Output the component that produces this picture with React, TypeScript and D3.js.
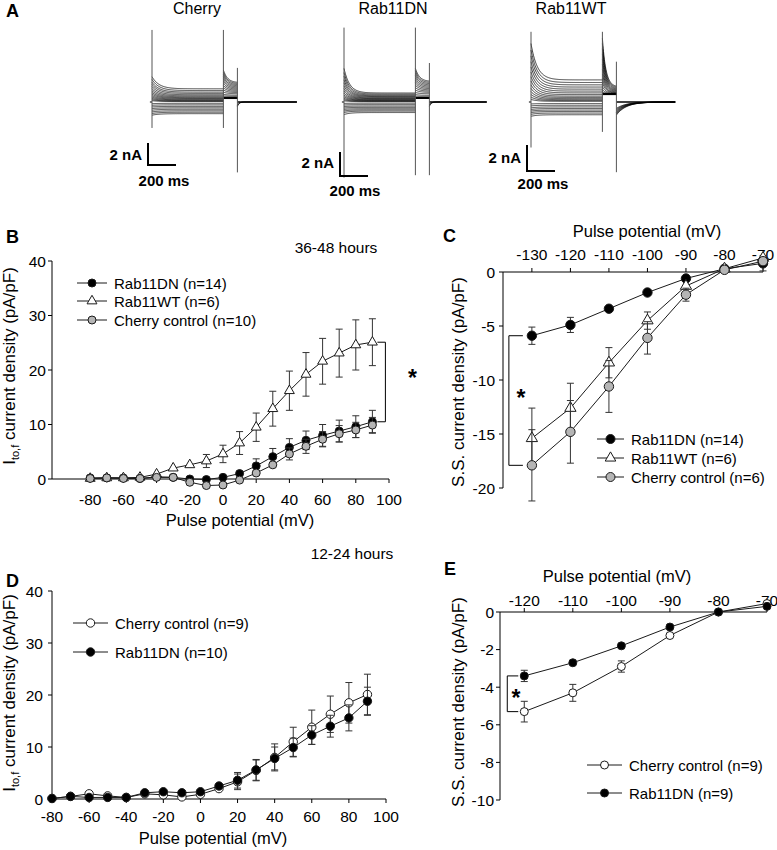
import React from "react";
import * as d3 from "d3";

const FONT = "Arial, 'Liberation Sans', Helvetica, sans-serif";
const INK = "#1a1a1a";
const GRAY_FILL = "#b5b5b5";

// ---------- A: whole-cell current traces, nA per voltage step ----------
const cherryPeakNA = [2.3, 2.05, 1.8, 1.6, 1.4, 1.2, 1.02, 0.86, 0.72, 0.58, 0.45, 0.33, 0.22, 0.12, -0.15, -0.3, -0.45, -0.6, -0.75, -0.9, -1.05, -1.2];
const cherrySteadyNA = [1.2, 1.04, 0.9, 0.78, 0.66, 0.56, 0.47, 0.39, 0.32, 0.25, 0.19, 0.13, 0.08, 0.04, -0.12, -0.26, -0.4, -0.53, -0.66, -0.8, -0.93, -1.06];
const cherryTailPeakNA = [2.9, 2.7, 2.5, 2.3, 2.1, 1.9, 1.7, 1.5, 1.3, 1.1, 0.9, 0.7, 0.55, 0.45, 0.38, 0.37, 0.36, 0.36, 0.35, 0.35, 0.35, 0.35];
const cherryTailEndNA = [1.75, 1.65, 1.55, 1.45, 1.35, 1.25, 1.15, 1.05, 0.95, 0.85, 0.75, 0.62, 0.52, 0.44, 0.38, 0.37, 0.36, 0.36, 0.35, 0.35, 0.35, 0.35];
const cherryOffNA = [-0.4, -0.3];

const dnPeakNA = [2.8, 2.45, 2.15, 1.85, 1.6, 1.35, 1.12, 0.92, 0.74, 0.58, 0.44, 0.31, 0.2, 0.1, -0.12, -0.25, -0.38, -0.5, -0.62, -0.75, -0.88, -1.05];
const dnSteadyNA = [0.75, 0.66, 0.58, 0.51, 0.45, 0.39, 0.33, 0.28, 0.23, 0.18, 0.14, 0.1, 0.06, 0.03, -0.1, -0.22, -0.34, -0.45, -0.56, -0.66, -0.76, -0.88];
const dnTailPeakNA = [2.8, 2.6, 2.4, 2.2, 2.0, 1.8, 1.6, 1.4, 1.2, 1.0, 0.8, 0.62, 0.48, 0.38, 0.33, 0.33, 0.33, 0.33, 0.33, 0.33, 0.33, 0.33];
const dnTailEndNA = [1.7, 1.6, 1.5, 1.4, 1.3, 1.2, 1.1, 1.0, 0.9, 0.8, 0.68, 0.55, 0.45, 0.37, 0.33, 0.33, 0.33, 0.33, 0.33, 0.33, 0.33, 0.33];
const dnOffNA = [-0.35, -0.25];

const wtPeakNA = [4.5, 4.0, 3.55, 3.1, 2.7, 2.3, 1.95, 1.62, 1.32, 1.05, 0.8, 0.58, 0.38, 0.2, -0.15, -0.3, -0.45, -0.58, -0.7, -0.82, -0.95, -1.1];
const wtSteadyNA = [1.7, 1.5, 1.32, 1.15, 0.99, 0.84, 0.7, 0.57, 0.45, 0.35, 0.26, 0.18, 0.11, 0.05, -0.12, -0.25, -0.38, -0.5, -0.62, -0.73, -0.85, -0.98];
const wtTailPeakNA = [4.9, 4.5, 4.1, 3.7, 3.3, 2.9, 2.5, 2.15, 1.8, 1.5, 1.2, 0.95, 0.78, 0.66, 0.6, 0.6, 0.6, 0.6, 0.6, 0.6, 0.6, 0.6];
const wtTailEndNA = [1.15, 1.08, 1.01, 0.95, 0.89, 0.84, 0.79, 0.74, 0.7, 0.67, 0.64, 0.62, 0.61, 0.6, 0.6, 0.6, 0.6, 0.6, 0.6, 0.6, 0.6, 0.6];
const wtOffNA = [-1.0, -0.9, -0.8, -0.7, -0.6, -0.5];

// capacitive transients: [time ms, top nA, bottom nA]
const cherrySpikes = [[0, 6.55, -2.36], [510, 6.55, -2.36], [610, 3.1, -6.4]];
const dnSpikes = [[0, 6.2, -6.3], [510, 6.2, -6.1], [610, 3.25, -6.1]];
const wtSpikes = [[0, 5.4, -3.5], [510, 5.4, -2.3], [610, 3.1, -5.4]];

// ---------- B: 36-48 hours, Ito,f density ----------
const potB = [-80, -70, -60, -50, -40, -30, -20, -10, 0, 10, 20, 30, 40, 50, 60, 70, 80, 90];
const dnB = [0.2, 0.2, 0.2, 0.1, 0.4, 0.3, 0.0, -0.1, 0.3, 1.0, 2.4, 4.1, 5.8, 7.1, 8.0, 8.8, 9.6, 10.5];
const dnBErr = [0.1, 0.1, 0.1, 0.1, 0.2, 0.2, 0.3, 0.3, 0.5, 0.9, 1.3, 1.5, 1.6, 1.7, 2.0, 2.0, 2.0, 2.1];
const wtB = [0.1, 0.2, 0.2, 0.3, 0.9, 2.0, 2.6, 3.3, 4.6, 6.6, 9.5, 12.9, 16.2, 19.2, 21.6, 23.1, 24.6, 25.1];
const wtBErr = [0.1, 0.1, 0.2, 0.3, 0.5, 0.7, 0.9, 1.2, 1.6, 2.1, 2.6, 3.2, 3.6, 4.0, 4.2, 4.4, 4.6, 4.3];
const cherryB = [0.1, 0.2, 0.1, 0.1, 0.3, 0.3, -0.6, -1.2, -1.1, -0.2, 1.1, 2.6, 4.6, 6.0, 7.3, 8.3, 9.0, 9.9];
const cherryBErr = [0.1, 0.1, 0.1, 0.1, 0.2, 0.3, 0.3, 0.3, 0.3, 0.4, 0.7, 0.9, 1.1, 1.3, 1.4, 1.5, 1.4, 1.4];
const xTicksB = [-80, -60, -40, -20, 0, 20, 40, 60, 80, 100];
const yTicksB = [0, 10, 20, 30, 40];

// ---------- C: 36-48 hours, steady-state current ----------
const potC = [-130, -120, -110, -100, -90, -80, -70];
const dnC = [-5.9, -4.9, -3.4, -1.9, -0.6, 0.3, 0.8];
const dnCErr = [0.8, 0.7, 0.4, 0.2, 0.3, 0.2, 0.7];
const wtC = [-15.4, -12.6, -8.4, -4.5, -1.3, 0.3, 1.3];
const wtCErr = [2.8, 2.3, 1.4, 0.8, 0.4, 0.2, 0.4];
const cherryC = [-17.9, -14.8, -10.6, -6.1, -2.1, 0.2, 1.0];
const cherryCErr = [3.3, 2.9, 2.4, 1.5, 0.6, 0.2, 0.3];
const xTicksC = [-130, -120, -110, -100, -90, -80, -70];
const yTicksC = [0, -5, -10, -15, -20];

// ---------- D: 12-24 hours, Ito,f density ----------
const potD = [-80, -70, -60, -50, -40, -30, -20, -10, 0, 10, 20, 30, 40, 50, 60, 70, 80, 90];
const cherryD = [0.1, 0.5, 1.0, 0.6, 0.3, 1.0, 0.8, 0.4, 0.9, 2.0, 3.3, 5.5, 8.0, 11.0, 13.8, 16.3, 18.5, 20.1];
const cherryDErr = [0.1, 0.2, 0.3, 0.3, 0.2, 0.3, 0.4, 0.4, 0.5, 1.0, 1.5, 2.0, 2.6, 2.8, 3.3, 3.5, 3.9, 3.9];
const dnD = [0.1, 0.5, 0.3, 0.3, 0.3, 1.2, 1.4, 1.2, 1.4, 2.5, 3.6, 5.6, 7.8, 9.9, 12.3, 14.0, 15.6, 18.8];
const dnDErr = [0.1, 0.2, 0.2, 0.2, 0.2, 0.3, 0.3, 0.3, 0.4, 0.8, 1.5, 2.0, 2.2, 1.8, 1.8, 2.1, 2.5, 2.7];
const xTicksD = [-80, -60, -40, -20, 0, 20, 40, 60, 80, 100];
const yTicksD = [0, 10, 20, 30, 40];

// ---------- E: 12-24 hours, steady-state current ----------
const potE = [-120, -110, -100, -90, -80, -70];
const cherryE = [-5.3, -4.3, -2.9, -1.25, 0, 0.45];
const cherryEErr = [0.55, 0.45, 0.3, 0.12, 0.05, 0.05];
const dnE = [-3.4, -2.7, -1.8, -0.8, 0, 0.3];
const dnEErr = [0.3, 0.25, 0.1, 0.08, 0.05, 0.05];
const xTicksE = [-120, -110, -100, -90, -80, -70];
const yTicksE = [0, -2, -4, -6, -8, -10];

type Kind = "filled" | "open" | "gray" | "triangle";
type Scale = d3.ScaleLinear<number, number>;

const Marker = ({ cx, cy, kind, r }: { cx: number; cy: number; kind: Kind; r: number }) => {
  if (kind === "triangle") {
    const d = d3.symbol(d3.symbolTriangle, r * r * 2.4)() as string;
    return <path d={d} transform={`translate(${cx},${cy})`} fill="#fff" stroke={INK} strokeWidth={1} />;
  }
  const fill = kind === "filled" ? "#000" : kind === "gray" ? GRAY_FILL : "#fff";
  return <circle cx={cx} cy={cy} r={r} fill={fill} stroke={INK} strokeWidth={1} />;
};

const Series = ({ xs, ys, errs, x, y, kind, r }: {
  xs: number[]; ys: number[]; errs: number[]; x: Scale; y: Scale; kind: Kind; r: number;
}) => {
  const line = d3.line<number>().x((_, i) => x(xs[i])).y((d) => y(d));
  return (
    <g>
      <path d={line(ys) as string} fill="none" stroke={INK} strokeWidth={1} />
      {ys.map((v, i) => {
        const cx = x(xs[i]);
        const top = y(v + errs[i]);
        const bot = y(v - errs[i]);
        if (Math.abs(bot - top) / 2 < r + 1) return null;
        return (
          <g key={i} stroke="#333" strokeWidth={1}>
            <line x1={cx} x2={cx} y1={top} y2={bot} />
            <line x1={cx - 3.5} x2={cx + 3.5} y1={top} y2={top} />
            <line x1={cx - 3.5} x2={cx + 3.5} y1={bot} y2={bot} />
          </g>
        );
      })}
      {ys.map((v, i) => <Marker key={i} cx={x(xs[i])} cy={y(v)} kind={kind} r={r} />)}
    </g>
  );
};

const LegendRow = ({ x1, x2, y, kind, r, label }: { x1: number; x2: number; y: number; kind: Kind; r: number; label: string }) => (
  <g>
    <line x1={x1} x2={x2} y1={y} y2={y} stroke={INK} strokeWidth={1} />
    <Marker cx={(x1 + x2) / 2} cy={y} kind={kind} r={r} />
    <text x={x2 + 7} y={y} dominantBaseline="central" fontSize={15}>{label}</text>
  </g>
);

const LeftAxis = ({ scale, x, ticks, gap }: { scale: Scale; x: number; ticks: number[]; gap: number }) => {
  const [a, b] = scale.range();
  return (
    <g>
      <line x1={x} x2={x} y1={a} y2={b} stroke="#000" />
      {ticks.map((t) => (
        <g key={t}>
          <line x1={x - 4} x2={x} y1={scale(t)} y2={scale(t)} stroke="#000" />
          <text x={x - gap} y={scale(t)} textAnchor="end" dominantBaseline="central" fontSize={15.5}>{t}</text>
        </g>
      ))}
    </g>
  );
};

const HAxis = ({ scale, y, ticks, dir, labelY }: { scale: Scale; y: number; ticks: number[]; dir: number; labelY: number }) => {
  const [a, b] = scale.range();
  return (
    <g>
      <line x1={a} x2={b} y1={y} y2={y} stroke="#000" />
      {ticks.map((t) => (
        <g key={t}>
          <line x1={scale(t)} x2={scale(t)} y1={y} y2={y + 4 * dir} stroke="#000" />
          <text x={scale(t)} y={labelY} textAnchor="middle" fontSize={15.5}>{t}</text>
        </g>
      ))}
    </g>
  );
};

const ItofTitle = ({ x, y }: { x: number; y: number }) => (
  <text transform={`translate(${x},${y}) rotate(-90)`} textAnchor="middle" fontSize={17}>
    I<tspan fontSize={11} dy={4}>to,f</tspan><tspan dy={-4}> current density (pA/pF)</tspan>
  </text>
);

const SSTitle = ({ x, y }: { x: number; y: number }) => (
  <text transform={`translate(${x},${y}) rotate(-90)`} textAnchor="middle" fontSize={17}>
    S.S. current density (pA/pF)
  </text>
);

type TraceSet = {
  title: string; titleX: number; x0: number; base: number; pxNA: number;
  tau: number; tauTail: number; tauOff: number; tEnd: number;
  peak: number[]; steady: number[]; tailPeak: number[]; tailEnd: number[]; off: number[];
  spikes: number[][]; bar: [number, number]; naText: [number, number]; msText: [number, number];
};

const PX_MS = 0.14;
const PULSE_END = 510;
const TAIL_END = 610;

const Traces = ({ s }: { s: TraceSet }) => {
  const x = d3.scaleLinear([0, 1000], [s.x0, s.x0 + 1000 * PX_MS]);
  const y = d3.scaleLinear([0, 1], [s.base, s.base - s.pxNA]);
  const line = d3.line<[number, number]>().x((d) => x(d[0])).y((d) => y(d[1]));
  const tPulse = d3.range(0, PULSE_END + 0.1, 3);
  const tTail = d3.range(PULSE_END, TAIL_END + 0.1, 2);
  const tOff = d3.range(TAIL_END, s.tEnd + 0.1, 4);
  const [bx, by] = s.bar;
  return (
    <g>
      <text x={s.titleX} y={14} textAnchor="middle" fontSize={16}>{s.title}</text>
      <line x1={x(-15)} x2={x(0)} y1={y(0)} y2={y(0)} stroke="#000" strokeWidth={1} />
      {s.peak.map((pk, i) => (
        <path key={"p" + i} fill="none" stroke="#000" strokeWidth={0.75}
          d={line(tPulse.map((t) => [t, s.steady[i] + (pk - s.steady[i]) * Math.exp(-t / s.tau)])) as string} />
      ))}
      {s.tailPeak.map((pk, i) => (
        <path key={"t" + i} fill="none" stroke="#000" strokeWidth={0.75}
          d={line(tTail.map((t) => [t, s.tailEnd[i] + (pk - s.tailEnd[i]) * Math.exp(-(t - PULSE_END) / s.tauTail)])) as string} />
      ))}
      <line x1={x(PULSE_END)} x2={x(TAIL_END)} y1={y(s.tailEnd[s.tailEnd.length - 1])} y2={y(s.tailEnd[s.tailEnd.length - 1])} stroke="#000" strokeWidth={1.8} />
      {s.off.map((d0, i) => (
        <path key={"o" + i} fill="none" stroke="#000" strokeWidth={0.9}
          d={line(tOff.map((t) => [t, d0 * Math.exp(-(t - TAIL_END) / s.tauOff)])) as string} />
      ))}
      <line x1={x(TAIL_END)} x2={x(s.tEnd)} y1={y(0)} y2={y(0)} stroke="#000" strokeWidth={1.4} />
      {s.spikes.map(([t, top, bot], i) => (
        <line key={"s" + i} x1={x(t)} x2={x(t)} y1={y(top)} y2={y(bot)} stroke="#555" strokeWidth={1} />
      ))}
      <path d={`M${bx},${by - 2 * s.pxNA}V${by}H${bx + 200 * PX_MS}`} fill="none" stroke="#000" strokeWidth={2} />
      <text x={s.naText[0]} y={s.naText[1]} textAnchor="end" fontSize={15} fontWeight="bold">2 nA</text>
      <text x={s.msText[0]} y={s.msText[1]} textAnchor="middle" fontSize={15} fontWeight="bold">200 ms</text>
    </g>
  );
};

const traceSets: TraceSet[] = [
  {
    title: "Cherry", titleX: 197, x0: 152, base: 102, pxNA: 11, tau: 50, tauTail: 30, tauOff: 12, tEnd: 1035,
    peak: cherryPeakNA, steady: cherrySteadyNA, tailPeak: cherryTailPeakNA, tailEnd: cherryTailEndNA, off: cherryOffNA,
    spikes: cherrySpikes, bar: [148, 165], naText: [142, 160], msText: [164, 186],
  },
  {
    title: "Rab11DN", titleX: 393, x0: 344, base: 102, pxNA: 12, tau: 40, tauTail: 30, tauOff: 12, tEnd: 1020,
    peak: dnPeakNA, steady: dnSteadyNA, tailPeak: dnTailPeakNA, tailEnd: dnTailEndNA, off: dnOffNA,
    spikes: dnSpikes, bar: [340, 176], naText: [334, 168], msText: [355, 196],
  },
  {
    title: "Rab11WT", titleX: 571, x0: 531, base: 102, pxNA: 13, tau: 45, tauTail: 25, tauOff: 70, tEnd: 1030,
    peak: wtPeakNA, steady: wtSteadyNA, tailPeak: wtTailPeakNA, tailEnd: wtTailEndNA, off: wtOffNA,
    spikes: wtSpikes, bar: [527, 171], naText: [521, 163], msText: [543, 189],
  },
];

const App = () => {
  const xB = d3.scaleLinear([-103, 100], [52, 389]);
  const yB = d3.scaleLinear([0, 40], [479, 261]);
  const xC = d3.scaleLinear([-137.5, -70], [503, 763]);
  const yC = d3.scaleLinear([0, -20], [272, 488]);
  const xD = d3.scaleLinear([-80, 100], [52, 386]);
  const yD = d3.scaleLinear([0, 40], [799, 591]);
  const xE = d3.scaleLinear([-125, -70], [500, 767]);
  const yE = d3.scaleLinear([0, -10], [612, 800]);

  const lastB = potB.length - 1;
  const bx = xB(potB[lastB]);

  return (
    <>
      <style>{"body{margin:0}"}</style>
      <svg width={777} height={850} style={{ display: "block", fontFamily: FONT }} fill="#000">
        <rect width={777} height={850} fill="#fff" />

        {/* A */}
        <text x={6} y={17} fontSize={18} fontWeight="bold">A</text>
        {traceSets.map((s) => <Traces key={s.title} s={s} />)}

        {/* B */}
        <text x={6} y={243} fontSize={18} fontWeight="bold">B</text>
        <text x={336} y={253} textAnchor="middle" fontSize={15.5}>36-48 hours</text>
        <LeftAxis scale={yB} x={52} ticks={yTicksB} gap={6} />
        <HAxis scale={xB} y={yB(0)} ticks={xTicksB} dir={1} labelY={505} />
        <text x={240} y={526} textAnchor="middle" fontSize={16.5}>Pulse potential (mV)</text>
        <ItofTitle x={15} y={366} />
        <Series xs={potB} ys={dnB} errs={dnBErr} x={xB} y={yB} kind="filled" r={4} />
        <Series xs={potB} ys={wtB} errs={wtBErr} x={xB} y={yB} kind="triangle" r={4.2} />
        <Series xs={potB} ys={cherryB} errs={cherryBErr} x={xB} y={yB} kind="gray" r={4} />
        <path d={`M${bx + 5},${yB(wtB[lastB])}H${bx + 13}V${yB(dnB[lastB])}H${bx + 5}`} fill="none" stroke="#000" />
        <text x={bx + 40} y={386} textAnchor="middle" fontSize={23} fontWeight="bold">*</text>
        <LegendRow x1={77} x2={107} y={283} kind="filled" r={4} label="Rab11DN (n=14)" />
        <LegendRow x1={77} x2={107} y={301} kind="triangle" r={4.2} label="Rab11WT (n=6)" />
        <LegendRow x1={77} x2={107} y={320} kind="gray" r={4} label="Cherry control (n=10)" />

        {/* C */}
        <text x={443} y={242} fontSize={18} fontWeight="bold">C</text>
        <text x={647} y={237} textAnchor="middle" fontSize={16.5}>Pulse potential (mV)</text>
        <HAxis scale={xC} y={yC(0)} ticks={xTicksC} dir={-1} labelY={260} />
        <LeftAxis scale={yC} x={503} ticks={yTicksC} gap={8} />
        <SSTitle x={464} y={382} />
        <Series xs={potC} ys={dnC} errs={dnCErr} x={xC} y={yC} kind="filled" r={4.7} />
        <Series xs={potC} ys={wtC} errs={wtCErr} x={xC} y={yC} kind="triangle" r={4.8} />
        <Series xs={potC} ys={cherryC} errs={cherryCErr} x={xC} y={yC} kind="gray" r={4.7} />
        <path d={`M${xC(potC[0]) - 9},${yC(dnC[0])}H${xC(potC[0]) - 23}V${yC(cherryC[0])}H${xC(potC[0]) - 9}`} fill="none" stroke="#000" />
        <text x={521} y={406} textAnchor="middle" fontSize={23} fontWeight="bold">*</text>
        <LegendRow x1={597} x2={624} y={439} kind="filled" r={4.5} label="Rab11DN (n=14)" />
        <LegendRow x1={597} x2={624} y={458} kind="triangle" r={4.5} label="Rab11WT (n=6)" />
        <LegendRow x1={597} x2={624} y={477} kind="gray" r={4.5} label="Cherry control (n=6)" />

        {/* D */}
        <text x={6} y={587} fontSize={18} fontWeight="bold">D</text>
        <text x={352} y={559} textAnchor="middle" fontSize={15.5}>12-24 hours</text>
        <LeftAxis scale={yD} x={52} ticks={yTicksD} gap={9} />
        <HAxis scale={xD} y={yD(0)} ticks={xTicksD} dir={1} labelY={822} />
        <text x={213} y={844} textAnchor="middle" fontSize={16.5}>Pulse potential (mV)</text>
        <ItofTitle x={15} y={693} />
        <Series xs={potD} ys={cherryD} errs={cherryDErr} x={xD} y={yD} kind="open" r={4.2} />
        <Series xs={potD} ys={dnD} errs={dnDErr} x={xD} y={yD} kind="filled" r={4.2} />
        <LegendRow x1={73} x2={108} y={623} kind="open" r={4.2} label="Cherry control (n=9)" />
        <LegendRow x1={73} x2={108} y={652} kind="filled" r={4.2} label="Rab11DN (n=10)" />

        {/* E */}
        <text x={444} y={575} fontSize={18} fontWeight="bold">E</text>
        <text x={617} y={582} textAnchor="middle" fontSize={16.5}>Pulse potential (mV)</text>
        <HAxis scale={xE} y={yE(0)} ticks={xTicksE} dir={-1} labelY={606} />
        <LeftAxis scale={yE} x={500} ticks={yTicksE} gap={6} />
        <SSTitle x={464} y={702} />
        <Series xs={potE} ys={cherryE} errs={cherryEErr} x={xE} y={yE} kind="open" r={4} />
        <Series xs={potE} ys={dnE} errs={dnEErr} x={xE} y={yE} kind="filled" r={4} />
        <path d={`M${xE(potE[0]) - 6},${yE(dnE[0])}H${xE(potE[0]) - 17}V${yE(cherryE[0])}H${xE(potE[0]) - 6}`} fill="none" stroke="#000" />
        <text x={516} y={706} textAnchor="middle" fontSize={23} fontWeight="bold">*</text>
        <LegendRow x1={587} x2={622} y={765} kind="open" r={4} label="Cherry control (n=9)" />
        <LegendRow x1={587} x2={622} y={793} kind="filled" r={4} label="Rab11DN (n=9)" />
      </svg>
    </>
  );
};

export default App;
